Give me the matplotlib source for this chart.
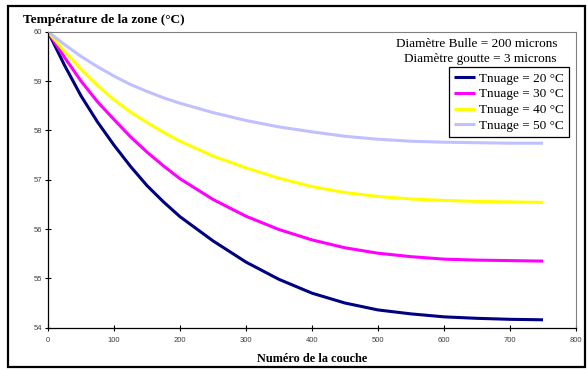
import matplotlib
matplotlib.use("Agg")
import matplotlib.pyplot as plt
from matplotlib.patches import Rectangle

# numéro de couche
couche = [0, 25, 50, 75, 100, 125, 150, 175, 200, 250, 300, 350, 400, 450, 500, 550, 600, 650, 700, 750]

# température de la zone (°C) pour chaque température de nuage
t20 = [60, 59.32, 58.70, 58.17, 57.70, 57.27, 56.88, 56.55, 56.25, 55.76, 55.33, 54.98, 54.70, 54.50, 54.36, 54.28, 54.22, 54.19, 54.17, 54.16]
t30 = [60, 59.48, 59.00, 58.58, 58.22, 57.87, 57.56, 57.28, 57.02, 56.60, 56.26, 55.99, 55.78, 55.62, 55.51, 55.44, 55.39, 55.37, 55.36, 55.35]
t40 = [60, 59.60, 59.24, 58.91, 58.62, 58.37, 58.16, 57.96, 57.78, 57.48, 57.24, 57.03, 56.86, 56.74, 56.66, 56.61, 56.58, 56.56, 56.55, 56.54]
t50 = [60, 59.74, 59.50, 59.29, 59.10, 58.93, 58.79, 58.66, 58.55, 58.36, 58.20, 58.07, 57.97, 57.88, 57.82, 57.78, 57.76, 57.75, 57.74, 57.74]

labels = ["Tnuage = 20 °C", "Tnuage = 30 °C", "Tnuage = 40 °C", "Tnuage = 50 °C"]
colors = ["#000080", "#FF00FF", "#FFFF00", "#C0C0FF"]

serif = "Liberation Serif"
sans = "Liberation Sans"

fig = plt.figure(figsize=(5.87, 3.70), dpi=100)
ax = fig.add_axes([48 / 587, 42.3 / 370, 528 / 587, 296 / 370])

for y, lab, c in zip([t20, t30, t40, t50], labels, colors):
    ax.plot(couche, y, color=c, lw=2.2, label=lab, solid_capstyle="butt")

ax.set_xlim(0, 800)
ax.set_ylim(54, 60)
ax.set_xticks(range(0, 801, 100))
ax.set_yticks(range(54, 61))

for s in ["top", "right"]:
    ax.spines[s].set_color("#808080")
    ax.spines[s].set_linewidth(0.8)
for s in ["left", "bottom"]:
    ax.spines[s].set_color("black")
    ax.spines[s].set_linewidth(0.9)

ax.tick_params(direction="inout", length=5, width=0.8, color="black",
               labelsize=5.5, labelcolor="#404040")
ax.tick_params(axis="x", pad=4)
ax.tick_params(axis="y", pad=2)
for t in ax.get_xticklabels() + ax.get_yticklabels():
    t.set_family(sans)

fig.text(22.7 / 587, 1 - 22.7 / 370, "Température de la zone (°C)",
         family=serif, weight="bold", fontsize=9.6, va="baseline", ha="left")
fig.text(312 / 587, 1 - 361.7 / 370, "Numéro de la couche",
         family=serif, weight="bold", fontsize=8.8, va="baseline", ha="center")

fig.text(557 / 587, 1 - 46.7 / 370, "Diamètre Bulle = 200 microns",
         family=serif, fontsize=9.5, va="baseline", ha="right")
fig.text(557 / 587, 1 - 62.3 / 370, "Diamètre goutte = 3 microns",
         family=serif, fontsize=9.5, va="baseline", ha="right")

leg = ax.legend(loc="upper right", bbox_to_anchor=(569.3 / 587, 1 - 67.3 / 370),
                bbox_transform=fig.transFigure, borderaxespad=0,
                prop={"family": serif, "size": 9.5}, handlelength=1.6,
                handletextpad=0.3, labelspacing=0.26, borderpad=0.4,
                fancybox=False, framealpha=1, edgecolor="black")
leg.get_frame().set_linewidth(0.9)

fig.patches.append(Rectangle((8 / 587, 3 / 370), 577 / 587, 361 / 370,
                             transform=fig.transFigure, fill=False,
                             edgecolor="black", lw=1.6))

fig.savefig("out.png", dpi=100)
